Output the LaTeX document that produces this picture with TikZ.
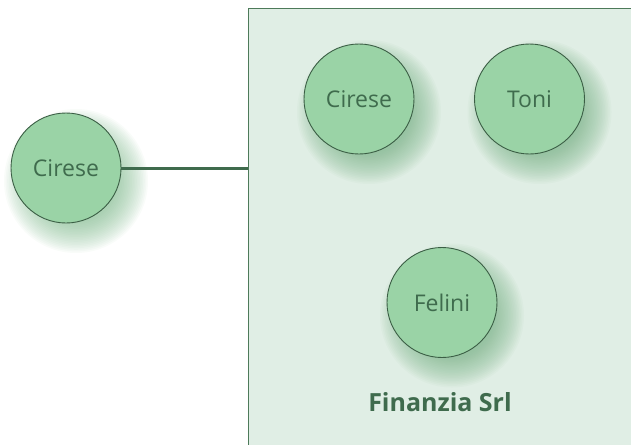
\documentclass[tikz,border=0pt]{standalone}
\usepackage{fontspec}
\setmainfont{Open Sans}
\definecolor{boxfill}{HTML}{E0EEE5}
\definecolor{boxline}{HTML}{4D7A5A}
\definecolor{cfill}{HTML}{9AD3A6}
\definecolor{cline}{HTML}{3B5E45}
\definecolor{ctext}{HTML}{3F6B4D}
\definecolor{shadowc}{HTML}{6FB07E}
\begin{document}
\begin{tikzpicture}[x=1pt,y=-1pt,
  person/.style={circle, draw=cline, line width=0.9pt, fill=cfill, minimum size=110pt, inner sep=0pt,
    text=ctext, font=\fontsize{23}{26}\selectfont},
  company/.style={draw=boxline, line width=1.2pt, fill=boxfill, anchor=north west,
    minimum width=400pt, minimum height=450pt, inner sep=0pt},
  link/.style={draw=ctext, line width=3pt}]
\useasboundingbox (0,0) rectangle (631,444);
\begin{scope}
\clip (0,0) rectangle (631,444);
\node[company] (box) at (248,8) {};
\end{scope}
% soft shadows
\foreach \cx/\cy in {66/168, 359/99, 529.5/99, 442/302.5} {
  \foreach \k in {0,...,19} {
    \fill[shadowc, fill opacity=0.045] (\cx+10,\cy+13) circle ({(72-\k*1.6)*1pt});
  }
}
\node[person] (c1) at (66,168) {Cirese};
\node[person] (c2) at (359,99) {Cirese};
\node[person] (t) at (529.5,99) {Toni};
\node[person] (f) at (442,302.5) {Felini};
\node[text=ctext, font=\bfseries\fontsize{25}{28}\selectfont] (lbl) at (440,402) {Finanzia Srl};
\draw[link] (c1.east) -- (c1.east -| box.west);
\end{tikzpicture}
\end{document}
